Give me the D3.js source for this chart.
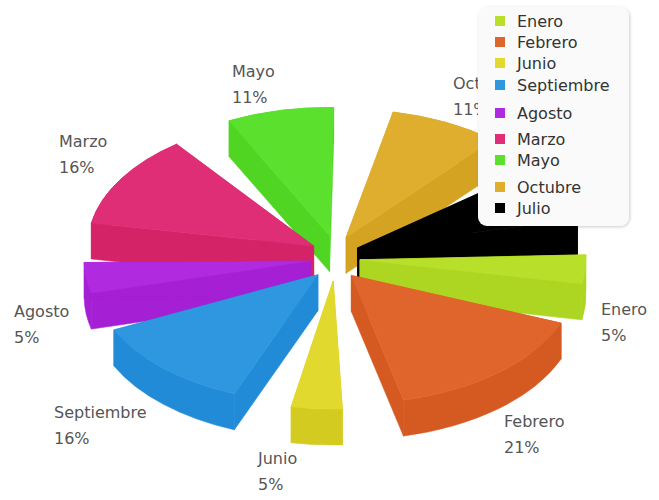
<!DOCTYPE html>
<html>
<head>
<meta charset="utf-8">
<script src="https://cdn.jsdelivr.net/npm/d3@7"></script>
<style>
  html, body { margin: 0; padding: 0; background: #fff; }
  svg { display: block; }
  text { font-family: "DejaVu Sans", sans-serif; font-size: 16px; }
</style>
</head>
<body>
<svg width="659" height="500"></svg>
<script>
const svg = d3.select('svg');

// data, in the order the slices go round
const months = ['Enero', 'Febrero', 'Junio', 'Septiembre', 'Agosto', 'Marzo', 'Mayo', 'Octubre', 'Julio'];
const shares = [5, 21, 5, 16.4, 5.3, 16.2, 10.5, 10.9, 9.7];
const topColors = ['#b8e02a', '#e0652d', '#e2d92e', '#2f97e0', '#b02ae0', '#df2e75', '#5ae02d', '#dfae2e', '#000000'];
const sideColors = ['#add622', '#d55a22', '#d4cb20', '#228bd7', '#a51fd5', '#d42467', '#50d622', '#d4a322', '#000000'];

// layout
const cx = 335;
const cy = 258;
const radius = 226;
const squash = 0.567;
const depth = 36;
const explodeX = 25;
const explodeY = 23;
const padDeg = 11;
const startDeg = 82.3;
const rad = Math.PI / 180;

const labelX = [601, 504, 258, 54, 14, 59, 232, 453, 0];
const labelY = [315, 427, 464, 418, 317, 147, 77, 89, 0];
const legendY = [21, 42, 63, 85, 113, 139, 160, 187, 208];

const pie = d3.pie()
  .sort(null)
  .padAngle(padDeg * rad)
  .startAngle(startDeg * rad)
  .endAngle((startDeg + 360) * rad);

const slices = pie(shares).map((d, i) => {
  // d3.pie counts from 12 o'clock, the screen from 3 o'clock
  const a0 = d.startAngle + d.padAngle / 2 - Math.PI / 2;
  const a1 = d.endAngle - d.padAngle / 2 - Math.PI / 2;
  const mid = (a0 + a1) / 2;
  const ax = cx + explodeX * Math.cos(mid);
  const ay = cy + explodeY * Math.sin(mid);
  return {
    i, mid, ax, ay,
    x0: ax + radius * Math.cos(a0),
    y0: ay + radius * squash * Math.sin(a0),
    x1: ax + radius * Math.cos(a1),
    y1: ay + radius * squash * Math.sin(a1)
  };
});

const rx = radius;
const ry = radius * squash;
const topPath = s =>
  `M${s.ax},${s.ay}L${s.x0},${s.y0}A${rx},${ry} 0 0 1 ${s.x1},${s.y1}Z`;
const outerWall = s =>
  `M${s.x0},${s.y0}A${rx},${ry} 0 0 1 ${s.x1},${s.y1}L${s.x1},${s.y1 + depth}A${rx},${ry} 0 0 0 ${s.x0},${s.y0 + depth}Z`;
const edgeWall = (s, x, y) =>
  `M${s.ax},${s.ay}L${x},${y}L${x},${y + depth}L${s.ax},${s.ay + depth}Z`;

// paint from the back of the pie to the front
const groups = svg.append('g')
  .selectAll('g')
  .data(slices.slice().sort((a, b) => d3.ascending(Math.sin(a.mid), Math.sin(b.mid))))
  .enter().append('g');

// thin stroke closes the hairline seams between faces
const addFace = (path, colors) => groups.append('path')
  .attr('d', path)
  .attr('fill', s => colors[s.i])
  .attr('stroke', s => colors[s.i])
  .attr('stroke-width', 0.6)
  .attr('stroke-linejoin', 'round');

addFace(s => edgeWall(s, s.x0, s.y0), sideColors);
addFace(s => edgeWall(s, s.x1, s.y1), sideColors);
addFace(outerWall, sideColors);
addFace(topPath, topColors);

// slice labels, Julio has none showing
const labels = svg.append('g')
  .selectAll('text')
  .data(months.map((m, i) => i).filter(i => labelX[i] > 0))
  .enter().append('text')
  .attr('fill', '#555')
  .attr('x', i => labelX[i])
  .attr('y', i => labelY[i]);
labels.append('tspan').text(i => months[i]);
labels.append('tspan')
  .attr('x', i => labelX[i])
  .attr('dy', 26)
  .text(i => Math.round(shares[i]) + '%');

// legend sits on top and hides part of the Octubre label
const defs = svg.append('defs');
const shadow = defs.append('filter').attr('id', 'shadow')
  .attr('x', '-10%').attr('y', '-10%').attr('width', '120%').attr('height', '120%');
shadow.append('feDropShadow')
  .attr('dx', 1).attr('dy', 1).attr('stdDeviation', 1.5)
  .attr('flood-color', '#000').attr('flood-opacity', 0.2);

const legend = svg.append('g');
legend.append('rect')
  .attr('x', 478).attr('y', 7)
  .attr('width', 151).attr('height', 219)
  .attr('rx', 9)
  .attr('fill', '#fafafa')
  .attr('filter', 'url(#shadow)');
legend.selectAll('rect.key')
  .data(months)
  .enter().append('rect')
  .attr('class', 'key')
  .attr('x', 495)
  .attr('y', (d, i) => legendY[i] - 5)
  .attr('width', 10).attr('height', 10)
  .attr('fill', (d, i) => topColors[i]);
legend.selectAll('text')
  .data(months)
  .enter().append('text')
  .attr('x', 517)
  .attr('y', (d, i) => legendY[i] + 6)
  .attr('fill', '#333')
  .text(d => d);
</script>
</body>
</html>
